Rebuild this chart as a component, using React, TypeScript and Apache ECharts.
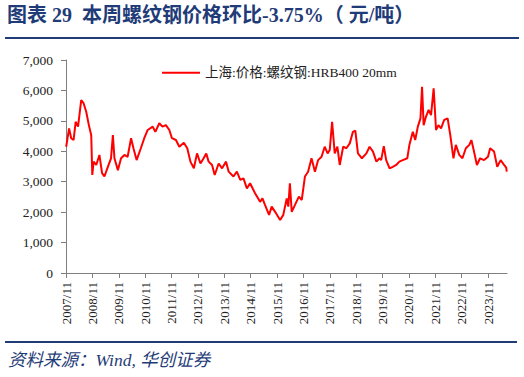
import React, { useEffect, useRef } from "react";
import * as echarts from "echarts";

// decimal years
const times: number[] = [
  2007.84, 2007.95, 2008.03, 2008.12, 2008.2, 2008.29, 2008.41, 2008.5, 2008.6, 2008.7,
  2008.79, 2008.83, 2008.88, 2008.98, 2009.1, 2009.2, 2009.29, 2009.42, 2009.54, 2009.61,
  2009.67, 2009.8, 2009.92, 2010.05, 2010.17, 2010.3, 2010.39, 2010.51, 2010.67, 2010.8,
  2010.93, 2011.12, 2011.22, 2011.37, 2011.49, 2011.62, 2011.75, 2011.85, 2012.0, 2012.13,
  2012.3, 2012.43, 2012.55, 2012.68, 2012.8, 2012.93, 2013.05, 2013.15, 2013.24, 2013.37,
  2013.47, 2013.62, 2013.75, 2013.9, 2014.0, 2014.18, 2014.31, 2014.44, 2014.56, 2014.69,
  2014.81, 2015.0, 2015.19, 2015.28, 2015.38, 2015.53, 2015.63, 2015.76, 2015.95, 2016.07,
  2016.2, 2016.26, 2016.32, 2016.39, 2016.51, 2016.66, 2016.77, 2016.89, 2017.01, 2017.14,
  2017.27, 2017.39, 2017.52, 2017.64, 2017.75, 2017.83, 2017.92, 2018.02, 2018.12, 2018.21,
  2018.34, 2018.46, 2018.59, 2018.71, 2018.8, 2018.9, 2019.05, 2019.22, 2019.34, 2019.47,
  2019.6, 2019.72, 2019.78, 2019.88, 2019.97, 2020.1, 2020.22, 2020.35, 2020.47, 2020.6,
  2020.77, 2020.85, 2020.98, 2021.07, 2021.17, 2021.27, 2021.33, 2021.39, 2021.48, 2021.58,
  2021.67, 2021.77, 2021.86, 2021.95, 2022.05, 2022.17, 2022.3, 2022.4, 2022.52, 2022.61,
  2022.74, 2022.86, 2022.99, 2023.12, 2023.2, 2023.3, 2023.41, 2023.53, 2023.68, 2023.83,
  2023.91, 2024.06, 2024.18, 2024.31, 2024.44, 2024.52, 2024.54,
];

const prices: number[] = [
  4150, 4750, 4430, 4370, 4970, 4810, 5680, 5580, 5300, 4860,
  4530, 3220, 3660, 3550, 3880, 3280, 3170, 3490, 3770, 4530,
  3770, 3380, 3770, 3880, 3820, 4430, 4100, 3710, 4100, 4430,
  4700, 4810, 4640, 4920, 4810, 4860, 4700, 4430, 4370, 4150,
  4280, 4100, 3660, 3440, 3930, 3600, 3770, 3930, 3660, 3550,
  3220, 3600, 3440, 3660, 3330, 3170, 3330, 3060, 3110, 2780,
  2950, 2620, 2340, 2450, 2230, 1910, 2180, 2010, 1740, 1910,
  2450, 2180, 2950, 2010, 2230, 2510, 2400, 3170, 3330, 3770,
  3330, 3710, 3820, 4150, 3930, 4040, 4970, 3930, 4150, 3550,
  4150, 4100, 4260, 4640, 4680, 3930, 3770, 3930, 4150, 3990,
  3660, 3770, 3710, 4170, 3710, 3440, 3490, 3550, 3660, 3710,
  3770, 4210, 4640, 4370, 4810, 5080, 6120, 4860, 5140, 5360,
  5190, 6070, 4700, 4860, 4750, 5030, 5080, 4530, 3770, 4210,
  3880, 3770, 4100, 4210, 4370, 3990, 3550, 3770, 3710, 3820,
  4100, 3990, 3490, 3710, 3550, 3460, 3330,
];

const tickYears: number[] = [
  2007, 2008, 2009, 2010, 2011, 2012, 2013, 2014, 2015, 2016, 2017, 2018, 2019, 2020, 2021, 2022, 2023,
];

const seriesName = "上海:价格:螺纹钢:HRB400 20mm";
const titleText = "图表 29  本周螺纹钢价格环比-3.75%（ 元/吨）";
const sourceText = "资料来源：Wind, 华创证券";

const START = 2007 + 10 / 12; // 2007/11
const toMonths = (t: number) => (t - START) * 12;
const tickValues = tickYears.map((y) => (y - 2007) * 12);

export default function App() {
  const ref = useRef<HTMLDivElement>(null);
  useEffect(() => {
    if (!ref.current) return;
    const chart = echarts.init(ref.current, undefined, { renderer: "svg" });
    const blue = "#1F3C78";
    const serif = "'Liberation Serif', 'Times New Roman', 'Noto Sans CJK SC', serif";
    chart.setOption({
      animation: false,
      backgroundColor: "#ffffff",
      grid: { left: 66, right: 17, top: 60, bottom: 104, containLabel: false },
      legend: {
        data: [{ name: seriesName, icon: "rect" }],
        left: 157,
        top: 61,
        itemWidth: 38,
        itemHeight: 2,
        textStyle: { fontFamily: serif, fontSize: 13.5, color: "#222" },
      },
      xAxis: {
        type: "value",
        min: 0,
        max: toMonths(2024.55),
        axisLine: { show: true, lineStyle: { color: "#7f7f7f", width: 1 } },
        axisTick: {
          show: true,
          customValues: tickValues,
          length: 5,
          lineStyle: { color: "#7f7f7f" },
        },
        splitLine: { show: false },
        axisLabel: {
          customValues: tickValues,
          rotate: 90,
          margin: 9,
          fontFamily: serif,
          fontSize: 13,
          color: "#222",
          formatter: (v: number) => `${Math.round(2007 + v / 12)}/11`,
        },
      },
      yAxis: {
        type: "value",
        min: 0,
        max: 7000,
        interval: 1000,
        axisLine: { show: true, lineStyle: { color: "#7f7f7f", width: 1 } },
        axisTick: { show: true, length: 5, lineStyle: { color: "#7f7f7f" } },
        splitLine: { show: false },
        axisLabel: {
          margin: 13,
          fontFamily: serif,
          fontSize: 13.5,
          color: "#222",
          formatter: (v: number) => v.toLocaleString("en-US"),
        },
      },
      series: [
        {
          name: seriesName,
          type: "line",
          showSymbol: false,
          symbol: "none",
          lineStyle: { color: "#FF0000", width: 2 },
          itemStyle: { color: "#FF0000" },
          data: times.map((t, i) => [toMonths(t), prices[i]]),
        },
      ],
      graphic: [
        {
          type: "text",
          left: 7,
          top: 5,
          style: {
            text: titleText,
            fontFamily: serif,
            fontWeight: "bold",
            fontSize: 20,
            fill: blue,
          },
        },
        {
          type: "line",
          shape: { x1: 5, y1: 38, x2: 519, y2: 38 },
          style: { stroke: blue, lineWidth: 2 },
        },
        {
          type: "line",
          shape: { x1: 5, y1: 342, x2: 517, y2: 342 },
          style: { stroke: blue, lineWidth: 2 },
        },
        {
          type: "text",
          left: 8,
          top: 351,
          style: {
            text: sourceText,
            fontFamily: serif,
            fontStyle: "italic",
            fontSize: 17.5,
            fill: blue,
          },
        },
      ],
    });
    return () => chart.dispose();
  }, []);
  return <div ref={ref} style={{ width: 524, height: 377, position: "fixed", left: 0, top: 0 }} />;
}
